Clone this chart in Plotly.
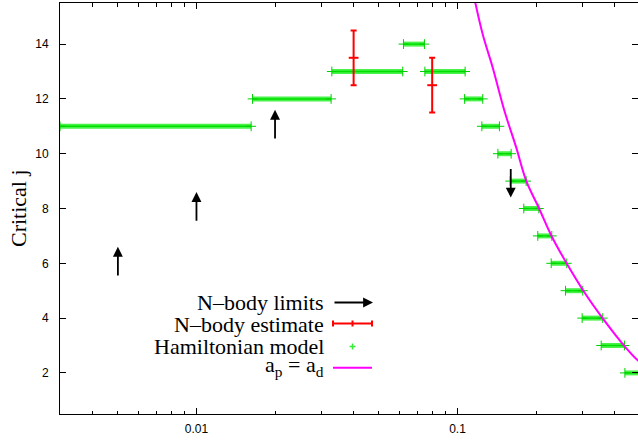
import numpy as np
import plotly.graph_objects as go

# ---------------- data ----------------
# Hamiltonian model: plateaus of critical j over ranges of a
ham_j = [11, 12, 13, 14, 13, 12, 11, 10, 9, 8, 7, 6, 5, 4, 3, 2]
ham_a_start = [0.0030, 0.0164, 0.0330, 0.0621, 0.0750, 0.1065, 0.1240, 0.1428,
               0.1592, 0.1795, 0.2031, 0.2286, 0.2593, 0.3004, 0.3553, 0.4380]
ham_a_end = [0.0162, 0.0328, 0.0617, 0.0747, 0.1070, 0.1250, 0.1448, 0.1606,
             0.1833, 0.2050, 0.2298, 0.2623, 0.3020, 0.3603, 0.4363, 0.5000]

# N-body estimate with error bars
nbody_a = [0.04, 0.08]
nbody_j = [13.5, 12.5]
nbody_err = [1.0, 1.0]

# N-body limits (arrows)
limit_a = [0.005, 0.01, 0.02, 0.16]
limit_from = [5.5, 7.5, 10.5, 9.5]
limit_to = [6.6, 8.6, 11.6, 8.4]

# a_p = a_d curve
apad_a = [0.1168, 0.1250, 0.1365, 0.1514, 0.1679, 0.1833, 0.2055, 0.2298,
          0.2623, 0.3040, 0.3603, 0.4363, 0.4894, 0.5000]
apad_j = [15.55, 14.35, 13.14, 11.56, 10.23, 9.02, 8.00, 6.98,
          5.99, 4.99, 3.99, 2.98, 2.47, 2.40]

x_major = [0.01, 0.1]
x_major_text = ["0.01", "0.1"]
x_minor = [0.004, 0.005, 0.006, 0.007, 0.008, 0.009,
           0.02, 0.03, 0.04, 0.05, 0.06, 0.07, 0.08, 0.09,
           0.2, 0.3, 0.4]
y_ticks = [2, 4, 6, 8, 10, 12, 14]

# ---------------- layout geometry ----------------
W, H = 638, 441
ML, MR, MT, MB = 60, 0, 3, 27
PW, PH = W - ML - MR, H - MT - MB


def px_x(px):
    return (px - ML) / PW


def px_y(py):
    return (H - MB - py) / PH


SERIF = "Liberation Serif"
SANS = "Liberation Sans"

fig = go.Figure()

# Hamiltonian model bands
hx, hy = [], []
for j, a0, a1 in zip(ham_j, ham_a_start, ham_a_end):
    hx += [a0, a1, None]
    hy += [j, j, None]
fig.add_trace(go.Scatter(x=hx, y=hy, mode="lines",
                         line=dict(color="rgba(40,240,40,0.85)", width=5),
                         hoverinfo="skip", showlegend=False))
fig.add_trace(go.Scatter(x=hx, y=hy, mode="lines",
                         line=dict(color="#00e000", width=1.5),
                         hoverinfo="skip", showlegend=False))
fig.add_trace(go.Scatter(x=ham_a_start + ham_a_end, y=ham_j + ham_j, mode="markers",
                         marker=dict(symbol="cross-thin", size=7,
                                     line=dict(color="#00d000", width=1)),
                         hoverinfo="skip", showlegend=False))

# a_p = a_d curve
fig.add_trace(go.Scatter(x=apad_a, y=apad_j, mode="lines",
                         line=dict(color="#ff00ff", width=2, shape="spline"),
                         showlegend=False))

# N-body estimates
fig.add_trace(go.Scatter(x=nbody_a, y=nbody_j, mode="markers",
                         marker=dict(symbol="line-ew", size=7,
                                     line=dict(color="#ff0000", width=2)),
                         error_y=dict(type="data", array=nbody_err, color="#ff0000",
                                      thickness=2, width=3),
                         showlegend=False))

annotations = []
# N-body limit arrows
for a, y0, y1 in zip(limit_a, limit_from, limit_to):
    annotations.append(dict(x=np.log10(a), y=y1, ax=np.log10(a), ay=y0,
                            xref="x", yref="y", axref="x", ayref="y",
                            text="", showarrow=True, arrowhead=2, arrowsize=1.1,
                            arrowwidth=1.8, arrowcolor="#000000", standoff=0))

# y-axis title
annotations.append(dict(x=px_x(19), y=px_y(208), xref="paper", yref="paper",
                        text="Critical j", textangle=-90, showarrow=False,
                        xanchor="center", yanchor="middle",
                        font=dict(family=SERIF, size=22, color="#000")))

# custom legend
leg_rows = [("N\u2013body limits", 302), ("N\u2013body estimate", 324),
            ("Hamiltonian model", 346.5), ("a<sub>p</sub> = a<sub>d</sub>", 366)]
for txt, py in leg_rows:
    annotations.append(dict(x=px_x(326), y=px_y(py), xref="paper", yref="paper",
                            text=txt, showarrow=False, xanchor="right", yanchor="middle",
                            font=dict(family=SERIF, size=22, color="#000")))
# legend arrow
annotations.append(dict(x=px_x(373), y=px_y(302.5), xref="paper", yref="paper",
                        ax=-40, ay=0, text="", showarrow=True, arrowhead=2,
                        arrowsize=1.1, arrowwidth=1.8, arrowcolor="#000", standoff=0))

shapes = []
# legend error bar
ly = px_y(323.5)
cap = 3 / PH
shapes.append(dict(type="line", xref="paper", yref="paper", x0=px_x(333), x1=px_x(372),
                   y0=ly, y1=ly, line=dict(color="#ff0000", width=2)))
for cx in (333, 352.5, 372):
    shapes.append(dict(type="line", xref="paper", yref="paper", x0=px_x(cx), x1=px_x(cx),
                       y0=ly - cap, y1=ly + cap, line=dict(color="#ff0000", width=2)))
# legend green +
gx, gy = px_x(352.5), px_y(346.5)
shapes.append(dict(type="line", xref="paper", yref="paper", x0=gx - 3 / PW, x1=gx + 3 / PW,
                   y0=gy, y1=gy, line=dict(color="#33ee33", width=1.5)))
shapes.append(dict(type="line", xref="paper", yref="paper", x0=gx, x1=gx,
                   y0=gy - 3 / PH, y1=gy + 3 / PH, line=dict(color="#33ee33", width=1.5)))
# legend magenta line
my = px_y(367.7)
shapes.append(dict(type="line", xref="paper", yref="paper", x0=px_x(333), x1=px_x(372),
                   y0=my, y1=my, line=dict(color="#ff00ff", width=2)))

xr0 = np.log10(0.003)
fig.update_layout(
    width=W, height=H,
    margin=dict(l=ML, r=MR, t=MT, b=MB, pad=0),
    paper_bgcolor="white", plot_bgcolor="white",
    showlegend=False,
    annotations=annotations,
    shapes=shapes,
    xaxis=dict(type="log", range=[xr0, xr0 + PW / 261.0],
               tickmode="array", tickvals=x_major, ticktext=x_major_text,
               ticks="inside", ticklen=6, tickwidth=1, tickcolor="#000",
               minor=dict(tickmode="array", tickvals=x_minor, ticks="inside",
                          ticklen=3.5, tickwidth=1, tickcolor="#000", showgrid=False),
               showline=True, linecolor="#000", linewidth=1, mirror="ticks",
               showgrid=False, zeroline=False,
               tickfont=dict(family=SANS, size=12, color="#000"),
               ticklabelstandoff=4),
    yaxis=dict(range=[0.5, 15.5], tickmode="array", tickvals=y_ticks,
               ticks="inside", ticklen=6, tickwidth=1, tickcolor="#000",
               showline=True, linecolor="#000", linewidth=1, mirror="ticks",
               showgrid=False, zeroline=False,
               tickfont=dict(family=SANS, size=12, color="#000"),
               ticklabelstandoff=8),
)

fig.write_html("out.html", config={"displayModeBar": False},
               post_script="document.body.style.margin='0';document.body.style.overflow='hidden';")
